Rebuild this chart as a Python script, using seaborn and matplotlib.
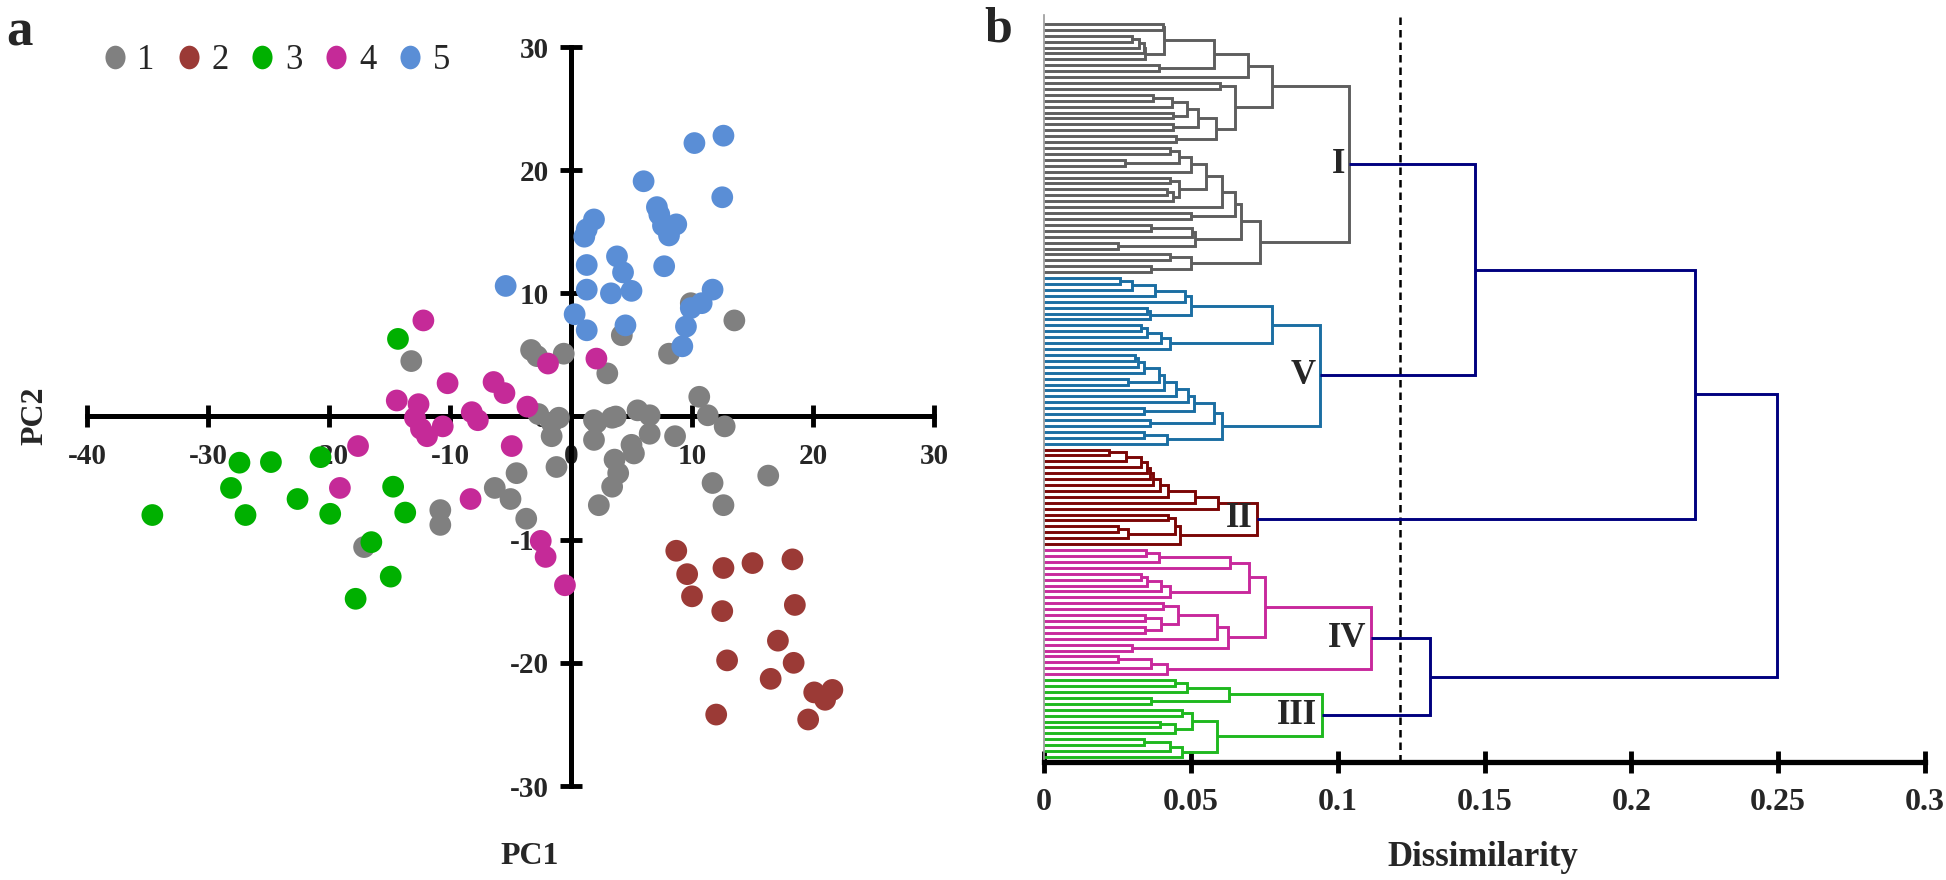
import numpy as np
import pandas as pd
import matplotlib
matplotlib.use("Agg")
import matplotlib.pyplot as plt
from matplotlib.markers import MarkerStyle
from matplotlib.transforms import Affine2D
from matplotlib.lines import Line2D
import seaborn as sns

# ---------------- data: PCA scatter (panel a) ----------------
groups = ["1", "2", "3", "4", "5"]
g1_x = [13.5, 9.9, 4.2, 8.1, -3.3, -2.8, -0.6, 3.0, -13.2, 10.6, 11.3, 12.7, 5.5, 6.5, 3.7, 2.1,
        -1.0, -2.7, -1.6, -1.6, 1.9, 3.4, 6.5, 8.6, 1.9, 5.0, 5.2, 3.6, 3.9, 3.4, 2.3, -1.2,
        -4.5, -6.3, -5.0, -3.7, -10.8, -10.8, 16.3, 11.7, 12.6, -17.1]
g1_y = [7.8, 9.2, 6.6, 5.1, 5.4, 4.9, 5.1, 3.5, 4.5, 1.6, 0.1, -0.8, 0.5, 0.1, 0.0, -0.5,
        -0.1, 0.2, -0.5, -1.6, -0.3, -0.1, -1.4, -1.6, -1.9, -2.3, -3.0, -3.5, -4.6, -5.7, -7.2, -4.1,
        -4.6, -5.8, -6.7, -8.3, -7.6, -8.8, -4.8, -5.4, -7.2, -10.6]
g2_x = [8.7, 9.6, 12.6, 15.0, 18.3, 10.0, 12.5, 18.5, 17.1, 12.9, 18.4, 16.5, 20.1, 21.6, 21.0, 12.0, 19.6]
g2_y = [-10.9, -12.8, -12.3, -11.9, -11.6, -14.6, -15.8, -15.3, -18.2, -19.8, -20.0, -21.3, -22.4,
        -22.2, -23.0, -24.2, -24.6]
g3_x = [-14.3, -27.4, -24.8, -20.7, -28.1, -22.6, -19.9, -14.7, -13.7, -26.9, -34.6, -16.5, -14.9, -17.8]
g3_y = [6.3, -3.75, -3.7, -3.3, -5.8, -6.7, -7.9, -5.7, -7.8, -8.0, -8.0, -10.2, -13.0, -14.8]
g4_x = [-12.2, 2.1, -1.9, -10.2, -6.4, -5.5, -14.4, -12.6, -8.2, -7.7, -3.6, -12.9, -12.4, -10.6,
        -11.9, -17.6, -4.9, -19.1, -8.3, -2.5, -2.1, -0.5]
g4_y = [7.8, 4.7, 4.3, 2.7, 2.8, 1.9, 1.3, 1.0, 0.35, -0.3, 0.8, -0.1, -1.0, -0.8,
        -1.6, -2.4, -2.4, -5.8, -6.7, -10.1, -11.4, -13.7]
g5_x = [12.6, 10.2, 12.5, 6.0, 7.1, 7.3, 7.6, 8.7, 8.1, 1.9, 1.3, 1.1, 1.3, 3.8, 4.3, 7.7, 1.3,
        3.3, 5.0, -5.4, 11.7, 10.8, 9.9, 0.3, 1.3, 4.5, 9.5, 9.2]
g5_y = [22.8, 22.2, 17.8, 19.1, 17.0, 16.4, 15.5, 15.6, 14.7, 16.0, 15.2, 14.6, 12.3, 13.0, 11.7,
        12.2, 10.3, 10.0, 10.2, 10.6, 10.3, 9.2, 8.8, 8.3, 7.0, 7.4, 7.3, 5.7]
x_ticks_a = [-40, -30, -20, -10, 0, 10, 20, 30]
y_ticks_a = [-30, -20, -10, 0, 10, 20, 30]

# ---------------- data: dendrogram (panel b) ----------------
# node = [merge height, upper child, lower child]; 0 = leaf
tree_I = [0.104,
          [0.0775,
           [0.0696, [0.058, [0.041, [0.0406, 0, 0], [0.0345, [0.034, [0.0325, [0.030, 0, 0], 0], 0], 0]],
                     [0.039, 0, 0]], 0],
           [0.065, [0.060, 0, 0],
            [0.0586, [0.0525, [0.0486, [0.0435, [0.037, 0, 0], 0], [0.044, 0, 0]], [0.044, 0, 0]],
             [0.045, 0, 0]]]],
          [0.0735,
           [0.067,
            [0.065, [0.0605, [0.055, [0.050, [0.046, [0.043, 0, 0], [0.0276, 0, 0]], 0],
                              [0.046, [0.043, 0, 0], [0.044, [0.042, 0, 0], 0]]], 0],
             [0.050, 0, 0]],
            [0.0514, [0.0503, [0.0366, 0, 0], 0], [0.0253, 0, 0]]],
           [0.050, [0.043, 0, 0], [0.0366, 0, 0]]]]
tree_V = [0.094,
          [0.0775,
           [0.050, [0.048, [0.0378, [0.030, [0.026, 0, 0], 0], 0], 0], [0.036, [0.035, 0, 0], 0]],
           [0.043, [0.040, [0.035, [0.033, 0, 0], 0], 0], 0]],
          [0.0605,
           [0.058, [0.051, [0.049, [0.045, [0.041, [0.039, [0.034, [0.032, [0.031, 0, 0], 0], 0],
                                                       [0.0287, 0, 0]], 0], 0], 0], [0.034, 0, 0]],
            [0.036, 0, 0]],
           [0.042, [0.034, 0, 0], 0]]]
tree_II = [0.0727,
           [0.0593, [0.0514, [0.0423, [0.0395, [0.037, [0.036, [0.035, [0.033, [0.028, [0.022, 0, 0], 0],
                                                                    0], 0], 0], 0], 0], 0], 0], 0],
           [0.0463, [0.0446, [0.0423, 0, 0], [0.0287, [0.0253, 0, 0], 0]], 0]]
tree_IV = [0.1112,
           [0.0752,
            [0.0698, [0.0633, [0.039, [0.0348, 0, 0], 0], 0], [0.0428, [0.040, [0.035, [0.033, 0, 0], 0], 0], 0]],
            [0.0628, [0.059, [0.0457, [0.0406, 0, 0], [0.040, [0.0344, 0, 0], [0.0344, 0, 0]]], 0],
             [0.030, 0, 0]]],
           [0.042, [0.0365, [0.0253, 0, 0], 0], 0]]
tree_III = [0.0945,
            [0.063, [0.0486, [0.0446, 0, 0], 0], [0.0366, 0, 0]],
            [0.059, [0.0503, [0.0469, 0, 0], [0.0446, [0.0395, 0, 0], 0]],
             [0.0469, [0.0428, [0.034, 0, 0], 0], 0]]]
top_tree = [0.2497, [0.2218, [0.1466, "I", "V"], "II"], [0.1314, "IV", "III"]]
cut_height = 0.1212
x_ticks_b = [0, 0.05, 0.1, 0.15, 0.2, 0.25, 0.3]
x_ticklabels_b = ["0", "0.05", "0.1", "0.15", "0.2", "0.25", "0.3"]

# ---------------- styling ----------------
scatter_palette = {"1": "#808080", "2": "#9b3a36", "3": "#00b000", "4": "#c52a98", "5": "#5a8ed6"}
cluster_trees = {"I": tree_I, "V": tree_V, "II": tree_II, "IV": tree_IV, "III": tree_III}
cluster_colors = {"I": "#5e5e5e", "V": "#1b6ea3", "II": "#7b0606", "IV": "#c8299c", "III": "#1fb81f"}
navy = "#00007f"

sns.set_style("white")
plt.rcParams["font.family"] = ["Liberation Serif", "DejaVu Serif"]
plt.rcParams["axes.unicode_minus"] = False

W, H = 1946, 880
fig = plt.figure(figsize=(W / 100, H / 100), dpi=100)

# ---------------- panel a ----------------
xs = g1_x + g2_x + g3_x + g4_x + g5_x
ys = g1_y + g2_y + g3_y + g4_y + g5_y
labs = (["1"] * len(g1_x) + ["2"] * len(g2_x) + ["3"] * len(g3_x) + ["4"] * len(g4_x) + ["5"] * len(g5_x))
df = pd.DataFrame({"PC1": xs, "PC2": ys, "group": labs})

ax = fig.add_axes([87 / W, (H - 786) / H, 847 / W, 739 / H])
sns.scatterplot(data=df, x="PC1", y="PC2", hue="group", palette=scatter_palette, s=245,
                linewidth=0, legend=False, ax=ax, zorder=3)
ax.set_xlim(-40, 30)
ax.set_ylim(-30, 30)
for side in ["top", "right"]:
    ax.spines[side].set_visible(False)
for side in ["left", "bottom"]:
    ax.spines[side].set_position(("data", 0))
    ax.spines[side].set_linewidth(3.6)
    ax.spines[side].set_color("black")
ax.set_xticks(x_ticks_a)
ax.set_yticks(y_ticks_a)
ax.tick_params(direction="inout", length=16, width=3.5, labelsize=21, color="black",
               bottom=True, left=True)
ax.tick_params(axis="x", pad=11)
ax.tick_params(axis="y", pad=8)
for t in ax.get_xticklabels() + ax.get_yticklabels():
    t.set_fontweight("bold")
ax.set_xlabel("")
ax.set_ylabel("")

oval = MarkerStyle("o", transform=Affine2D().scale(0.85, 1.0))
handles = [Line2D([], [], ls="", marker=oval, ms=17, color=scatter_palette[g], mec="none") for g in groups]
fig.legend(handles, groups, ncol=5, loc="upper left", bbox_to_anchor=(66 / W, 1 - 13 / H),
           frameon=False, handletextpad=0.15, columnspacing=0.48, handlelength=1.0,
           prop={"family": "Liberation Serif", "size": 25})

fig.text(35 / W, 1 - 416 / H, "PC2", rotation=90, ha="center", va="center",
         fontsize=23, fontweight="bold")
fig.text(530 / W, 1 - 856 / H, "PC1", ha="center", va="center", fontsize=23, fontweight="bold")
fig.text(6 / W, 1 - 45 / H, "a", ha="left", va="baseline", fontsize=38, fontweight="bold")
fig.text(984 / W, 1 - 42 / H, "b", ha="left", va="baseline", fontsize=36, fontweight="bold")

# ---------------- panel b ----------------
bx = fig.add_axes([1044 / W, (H - 762) / H, 881 / W, 747 / H])
lw = 2.1
counter = [0]


def draw_node(node, color):
    if node == 0:
        y = counter[0]
        counter[0] += 1
        return 0.0, y
    h, a, b = node
    xa, ya = draw_node(a, color)
    xb, yb = draw_node(b, color)
    bx.plot([xa, h, h, xb], [ya, ya, yb, yb], color=color, lw=lw,
            solid_joinstyle="miter", solid_capstyle="butt")
    return h, (ya + yb) / 2


def draw_top(node):
    if isinstance(node, str):
        h, y = draw_node(cluster_trees[node], cluster_colors[node])
        bx.text(h - 0.0015, y, node, ha="right", va="center", fontsize=25, fontweight="bold")
        return h, y
    h, a, b = node
    xa, ya = draw_top(a)
    xb, yb = draw_top(b)
    bx.plot([xa, h, h, xb], [ya, ya, yb, yb], color=navy, lw=lw,
            solid_joinstyle="miter", solid_capstyle="butt")
    return h, (ya + yb) / 2


draw_top(top_tree)
n_leaves = counter[0]
bx.set_ylim(n_leaves - 0.15, -1.5)
bx.set_xlim(0, 0.3)
bx.axvline(cut_height, color="black", lw=1.8, ls=(0, (3, 2)), zorder=1)
for side in ["top", "right"]:
    bx.spines[side].set_visible(False)
bx.spines["left"].set_color("#9a9a9a")
bx.spines["left"].set_linewidth(1.2)
bx.spines["bottom"].set_color("black")
bx.spines["bottom"].set_linewidth(3.8)
bx.set_yticks([])
bx.set_xticks(x_ticks_b, x_ticklabels_b)
bx.tick_params(axis="x", direction="inout", length=16, width=3.5, labelsize=23, pad=11,
               color="black", bottom=True)
for t in bx.get_xticklabels():
    t.set_fontweight("bold")
fig.text(1483 / W, 1 - 857 / H, "Dissimilarity", ha="center", va="center",
         fontsize=25, fontweight="bold")

fig.savefig("out.png", dpi=100)
